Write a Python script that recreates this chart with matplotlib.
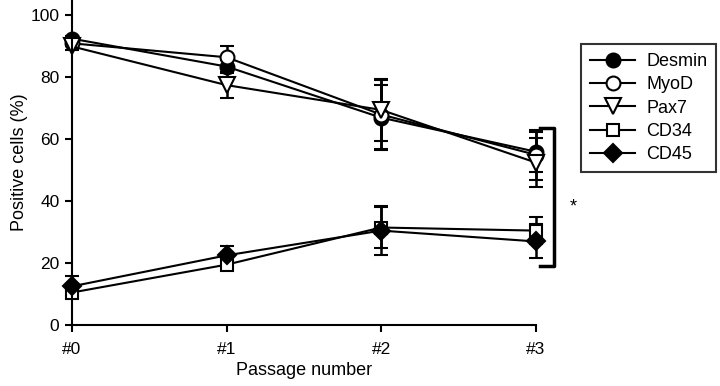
import matplotlib.pyplot as plt

plt.rcParams['font.family'] = ['Liberation Sans', 'DejaVu Sans']

passages = [0, 1, 2, 3]
tick_labels = ['#0', '#1', '#2', '#3']

desmin = [92.5, 83.5, 67.0, 56.0]
desmin_err = [1.0, 2.0, 10.5, 6.5]
myod = [91.0, 86.5, 68.0, 55.0]
myod_err = [1.0, 3.8, 11.2, 8.0]
pax7 = [90.0, 77.5, 69.5, 52.5]
pax7_err = [1.0, 4.3, 10.0, 8.0]
cd34 = [10.5, 19.5, 31.5, 30.5]
cd34_err = [1.5, 1.5, 6.5, 4.3]
cd45 = [12.5, 22.5, 30.5, 27.0]
cd45_err = [3.3, 3.0, 8.0, 5.5]

series = [
    ('Desmin', desmin, desmin_err, 'o', 'black', 10),
    ('MyoD', myod, myod_err, 'o', 'white', 10),
    ('Pax7', pax7, pax7_err, 'v', 'white', 11),
    ('CD34', cd34, cd34_err, 's', 'white', 9),
    ('CD45', cd45, cd45_err, 'D', 'black', 9),
]

fig = plt.figure(figsize=(7.2, 3.86), dpi=100)
ax = fig.add_axes([0.1, 0.158, 0.644, 0.842])

handles = []
for name, vals, err, mk, fc, ms in series:
    cont = ax.errorbar(passages, vals, yerr=err, marker=mk, markersize=ms,
                       markerfacecolor=fc, markeredgecolor='black', markeredgewidth=1.5,
                       color='black', linewidth=1.5, elinewidth=1.8, capsize=5,
                       capthick=1.8, label=name, clip_on=False)
    handles.append(cont[0])

# significance bracket
ax.plot([3.03, 3.12, 3.12, 3.03], [63.8, 63.8, 19.0, 19.0], color='black',
        linewidth=2.5, clip_on=False)
ax.text(3.24, 38, '*', fontsize=13, ha='center', va='center')

ax.set_xlim(0, 3)
ax.set_ylim(0, 105)
ax.set_xticks(passages)
ax.set_xticklabels(tick_labels)
ax.set_yticks([0, 20, 40, 60, 80, 100])
ax.tick_params(direction='out', length=5, width=1.5, labelsize=12.5, pad=4)
ax.tick_params(axis='x', pad=7)
ax.spines['top'].set_visible(False)
ax.spines['right'].set_visible(False)
ax.spines['left'].set_linewidth(1.5)
ax.spines['bottom'].set_linewidth(1.5)
ax.set_xlabel('Passage number', fontsize=13, labelpad=4)
ax.set_ylabel('Positive cells (%)', fontsize=13, labelpad=2)

leg = fig.legend(handles=handles, labels=[s[0] for s in series], loc='upper left',
                 bbox_to_anchor=(0.807, 0.886), borderaxespad=0, fontsize=13,
                 frameon=True, fancybox=False, edgecolor='black',
                 handlelength=2.5, borderpad=0.5, labelspacing=0.35,
                 handletextpad=0.6)
leg.get_frame().set_linewidth(1.5)

fig.savefig('out.png', dpi=100)
